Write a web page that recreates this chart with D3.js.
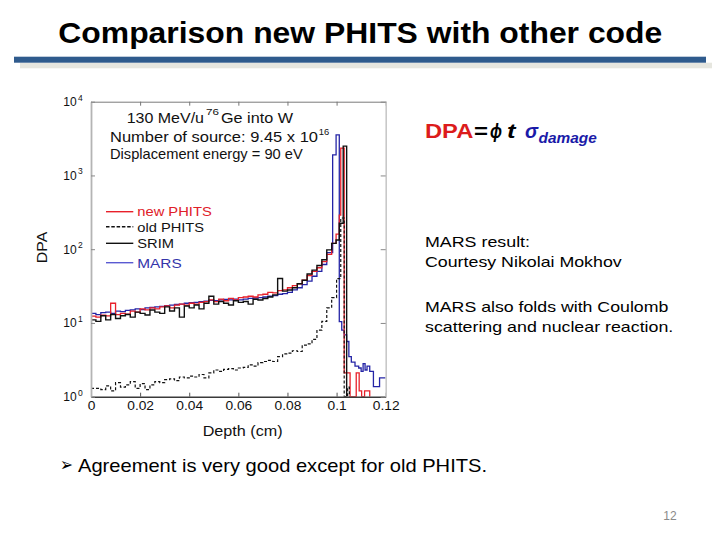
<!DOCTYPE html>
<html><head><meta charset="utf-8">
<script src="https://cdn.jsdelivr.net/npm/d3@7"></script>
<style>
body{margin:0;background:#fff}
svg{display:block}
text{font-family:"Liberation Sans",Arial,Helvetica,sans-serif}
</style>
</head><body>
<svg id="c" width="720" height="540"></svg>
<script>
// ---------- data ----------
const bodyDepth = [0, 0.002, 0.004, 0.006, 0.008, 0.010, 0.012, 0.014, 0.016, 0.018,
  0.020, 0.022, 0.024, 0.026, 0.028, 0.030, 0.032, 0.034, 0.036, 0.038,
  0.040, 0.042, 0.044, 0.046, 0.048, 0.050, 0.052, 0.054, 0.056, 0.058,
  0.060, 0.062, 0.064, 0.066, 0.068, 0.070, 0.072, 0.074, 0.076, 0.078,
  0.080, 0.082, 0.084, 0.086, 0.088, 0.090, 0.092, 0.094];

const newPhitsBody = [12.4, 12.0, 12.8, 12.5, 18.5, 13.0, 13.5, 13.2, 14.5, 14.0,
  15.5, 15.0, 16.0, 15.5, 16.5, 17.0, 16.0, 17.5, 18.0, 17.5,
  18.5, 18.0, 19.0, 19.5, 20.5, 19.5, 21.0, 20.0, 21.5, 20.5,
  22.0, 22.5, 23.0, 22.5, 24.0, 24.5, 26.0, 25.5, 27.5, 28.0,
  30.0, 32.0, 34.0, 38.0, 44.0, 50.0, 56.0, 68.0];
const newPhitsPeakDepth = [0.096, 0.098, 0.0998, 0.1011, 0.1017, 0.1031, 0.1055, 0.1080, 0.1092, 0.1102, 0.1114, 0.1135];
const newPhitsPeak = [85, 120, 160, 290, 2350, 2.1, 0.5, 2.1, 1.2, 0.5, 1.2];

const marsBody = [13.5, 13.0, 13.8, 14.0, 13.5, 14.5, 14.2, 14.8, 15.0, 15.5,
  15.2, 16.0, 16.2, 16.5, 16.8, 17.2, 17.5, 17.8, 18.0, 18.5,
  18.8, 19.0, 19.5, 19.8, 20.2, 20.0, 20.5, 20.8, 20.5, 21.0,
  20.5, 21.0, 21.5, 21.8, 22.0, 22.5, 23.0, 23.5, 24.5, 25.0,
  26.0, 28.0, 30.0, 33.0, 37.0, 43.0, 50.0, 62.0];
const marsPeakDepth = [0.096, 0.0984, 0.0998, 0.1011, 0.1021, 0.1031, 0.1041, 0.1050, 0.1060, 0.1075,
  0.1090, 0.1100, 0.1108, 0.1116, 0.1124, 0.1135, 0.1150, 0.1175, 0.1200];
const marsPeak = [90, 1900, 3540, 10.4, 8.0, 6.9, 5.6, 3.5, 2.95, 2.6, 2.45, 2.2, 2.8, 2.3, 2.6, 2.2, 1.37, 1.8];

const srimBody = [11.0, 10.5, 12.5, 11.0, 13.0, 11.5, 12.5, 13.0, 12.0, 14.0,
  13.5, 12.8, 15.0, 14.0, 13.5, 16.5, 14.5, 16.0, 12.0, 17.0,
  16.0, 17.5, 15.5, 18.5, 23.0, 18.0, 19.5, 18.5, 17.5, 20.0,
  19.0, 19.5, 18.0, 21.0, 20.5, 21.5, 22.5, 24.0, 40.0, 27.0,
  28.0, 30.0, 34.0, 38.0, 46.0, 52.0, 60.0, 72.0];
const srimPeakDepth = [0.096, 0.098, 0.0998, 0.1011, 0.1027, 0.1041];
const srimPeak = [98, 120, 133, 225, 2500];

const oldPhitsBody = [1.3, 1.3, 1.25, 1.4, 1.2, 1.55, 1.35, 1.45, 1.6, 1.3,
  1.5, 1.25, 1.45, 1.6, 1.55, 1.7, 1.75, 1.65, 1.85, 1.8,
  1.9, 1.85, 2.0, 1.8, 2.1, 2.3, 2.2, 2.35, 2.4, 2.3,
  2.45, 2.5, 2.7, 2.6, 2.9, 3.0, 3.1, 3.0, 3.5, 3.8,
  3.9, 4.2, 4.1, 5.0, 5.2, 6.0, 8.0, 10.5];
const oldPhitsPeakDepth = [0.096, 0.098, 0.1000, 0.1017, 0.1031, 0.1045, 0.1052];
const oldPhitsPeak = [16, 22, 40, 265, 0.5, 1.35];

const xTicks = [0, 0.02, 0.04, 0.06, 0.08, 0.1, 0.12];
const xTickLabels = ["0", "0.02", "0.04", "0.06", "0.08", "0.1", "0.12"];
const yTicks = [1, 10, 100, 1000, 10000];
const yTickExp = ["0", "1", "2", "3", "4"];
const legendNames = ["new PHITS", "old PHITS", "SRIM", "MARS"];

// ---------- layout ----------
const svg = d3.select("#c");
const L = 91, R = 385.7, T = 101.7, B = 396.7;
const x = d3.scaleLinear().domain([0, 0.12]).range([L, R]);
const y = d3.scaleLog().domain([1, 10000]).range([B, T]).clamp(true);
const FLOOR = 0.5;

function fit(sel, w) {
  sel.attr("textLength", w).attr("lengthAdjust", "spacingAndGlyphs");
  return sel;
}
function stretch(sel, k) {
  sel.each(function () {
    const w = this.getComputedTextLength();
    this.setAttribute("textLength", w * k);
    this.setAttribute("lengthAdjust", "spacingAndGlyphs");
  });
}

// ---------- title ----------
svg.append("text").attr("x", 58.3).attr("y", 42.7)
  .attr("font-size", 29.3).attr("font-weight", "bold").attr("fill", "#000")
  .text("Comparison new PHITS with other code").call(fit, 604);
svg.append("rect").attr("x", 20).attr("y", 62.7).attr("width", 692).attr("height", 5.6).attr("fill", "#e6e6df");
svg.append("rect").attr("x", 14).attr("y", 56.7).attr("width", 692).attr("height", 6).attr("fill", "#2f5b8d");

// ---------- series ----------
function steps(depths, vals, drop) {
  const pts = depths.map((d, i) => [d, vals[Math.min(i, vals.length - 1)]]);
  if (drop) pts.push([depths[depths.length - 1], FLOOR]);
  return pts;
}
const series = [
  {name: "MARS", pts: steps(bodyDepth.concat(marsPeakDepth), marsBody.concat(marsPeak), false), color: "#2424a6", w: 1.3, dash: null},
  {name: "new PHITS", pts: steps(bodyDepth.concat(newPhitsPeakDepth), newPhitsBody.concat(newPhitsPeak), true), color: "#e8202a", w: 1.3, dash: null},
  {name: "SRIM", pts: steps(bodyDepth.concat(srimPeakDepth), srimBody.concat(srimPeak), true), color: "#111", w: 1.4, dash: null},
  {name: "old PHITS", pts: steps(bodyDepth.concat(oldPhitsPeakDepth), oldPhitsBody.concat(oldPhitsPeak), true), color: "#111", w: 1.2, dash: "3,2"}
];

svg.append("defs").append("clipPath").attr("id", "clip")
  .append("rect").attr("x", L).attr("y", T).attr("width", R - L).attr("height", B - T);

const line = d3.line().x(d => x(d[0])).y(d => y(d[1])).curve(d3.curveStepAfter);
const plot = svg.append("g").attr("clip-path", "url(#clip)");
series.forEach(s => {
  plot.append("path").datum(s.pts).attr("d", line)
    .attr("fill", "none").attr("stroke", s.color).attr("stroke-width", s.w)
    .attr("stroke-dasharray", s.dash);
});

// ---------- axes ----------
const gx = svg.append("g").attr("transform", `translate(0,${B})`)
  .call(d3.axisBottom(x).tickValues(xTicks).tickFormat((d, i) => xTickLabels[i])
    .tickSizeInner(-4).tickSizeOuter(0).tickPadding(4.5));
gx.select(".domain").attr("stroke", "#3a3a3a").attr("stroke-width", 1.6);
gx.selectAll(".tick line").attr("stroke", "#555");
gx.selectAll(".tick text").attr("font-size", 12.5).attr("fill", "#111")
  .attr("font-family", "'Liberation Sans',Arial,sans-serif").call(stretch, 1.1);

const gt = svg.append("g").attr("transform", `translate(0,${T})`)
  .call(d3.axisTop(x).tickValues(xTicks).tickFormat("").tickSizeInner(-4).tickSizeOuter(0));
gt.select(".domain").attr("stroke", "#7a7a7a").attr("stroke-width", 1);
gt.selectAll(".tick line").attr("stroke", "#777");

const gl = svg.append("g").attr("transform", `translate(${L},0)`)
  .call(d3.axisLeft(y).tickValues(yTicks).tickFormat("").tickSizeInner(-4).tickSizeOuter(0));
gl.select(".domain").attr("stroke", "#b4b4b4").attr("stroke-width", 1.8);
gl.selectAll(".tick line").attr("stroke", "#888");

const gr = svg.append("g").attr("transform", `translate(${R},0)`)
  .call(d3.axisRight(y).tickValues(yTicks).tickFormat("").tickSizeInner(-5).tickSizeOuter(0));
gr.select(".domain").attr("stroke", "#c8c8c8").attr("stroke-width", 1.6);
gr.selectAll(".tick line").attr("stroke", "#888");

// y tick labels 10^n
yTicks.forEach((v, i) => {
  const ty = y(v);
  svg.append("text").attr("x", 76.7).attr("y", ty + 4.5).attr("text-anchor", "end")
    .attr("font-size", 12).attr("fill", "#111").text("10").call(fit, 13.4);
  svg.append("text").attr("x", 78).attr("y", ty - 1.2)
    .attr("font-size", 8.5).attr("fill", "#111").text(yTickExp[i]);
});

// axis titles
svg.append("text").attr("x", 242.7).attr("y", 436).attr("text-anchor", "middle")
  .attr("font-size", 15).attr("fill", "#111").text("Depth (cm)").call(fit, 80);
svg.append("text").attr("transform", "translate(46.7,247.5) rotate(-90)").attr("text-anchor", "middle")
  .attr("font-size", 14.5).attr("fill", "#111").text("DPA").call(fit, 31.6);

// annotation inside plot
svg.append("text").attr("x", 126.7).attr("y", 122.5).attr("font-size", 14.5).attr("fill", "#111")
  .text("130 MeV/u").call(fit, 77.3);
svg.append("text").attr("x", 206).attr("y", 114.5).attr("font-size", 9.5).attr("fill", "#111")
  .text("76").call(fit, 13);
svg.append("text").attr("x", 221).attr("y", 122.5).attr("font-size", 14.5).attr("fill", "#111")
  .text("Ge into W").call(fit, 72);
svg.append("text").attr("x", 110).attr("y", 141.5).attr("font-size", 14.5).attr("fill", "#111")
  .text("Number of source: 9.45 x 10").call(fit, 208);
svg.append("text").attr("x", 318.8).attr("y", 135).attr("font-size", 9.5).attr("fill", "#111")
  .text("16").call(fit, 10.5);
svg.append("text").attr("x", 110).attr("y", 159.3).attr("font-size", 14.5).attr("fill", "#111")
  .text("Displacement energy = 90 eV").call(fit, 192.7);

// legend
const legY = [211.7, 226.7, 243.3, 262.7];
const legBase = [216, 231.7, 248.3, 267.7];
const legW = [74.4, 66.7, 36.7, 44.4];
const legLine = ["#e8202a", "#111", "#111", "#5a5ad2"];
const legText = ["#e02028", "#111", "#111", "#3434aa"];
const legDash = [null, "3.5,1.8", null, null];
legendNames.forEach((n, i) => {
  svg.append("line").attr("x1", 106).attr("x2", 133.3).attr("y1", legY[i]).attr("y2", legY[i])
    .attr("stroke", legLine[i]).attr("stroke-width", 1.4).attr("stroke-dasharray", legDash[i]);
  svg.append("text").attr("x", 137.3).attr("y", legBase[i]).attr("font-size", 13)
    .attr("fill", legText[i]).text(n).call(fit, legW[i]);
});

// ---------- right-side text ----------
svg.append("text").attr("x", 425).attr("y", 138.3).attr("font-size", 20).attr("font-weight", "bold")
  .attr("fill", "#dc1c1c").text("DPA").call(fit, 48.3);
svg.append("text").attr("x", 474).attr("y", 138.3).attr("font-size", 20).attr("font-weight", "bold")
  .attr("fill", "#000").text("=").call(fit, 14);
svg.append("text").attr("x", 490).attr("y", 138.3).attr("font-size", 20).attr("font-weight", "bold")
  .attr("font-style", "italic").attr("font-family", "'Liberation Serif','DejaVu Serif',serif")
  .attr("fill", "#000").text("ϕ").call(fit, 12);
svg.append("text").attr("x", 507).attr("y", 138.3).attr("font-size", 20).attr("font-weight", "bold")
  .attr("font-style", "italic").attr("font-family", "'Liberation Serif','DejaVu Serif',serif")
  .attr("fill", "#000").text("t").call(fit, 8.5);
svg.append("text").attr("x", 525).attr("y", 138.3).attr("font-size", 20).attr("font-weight", "bold")
  .attr("font-style", "italic").attr("font-family", "'DejaVu Sans',sans-serif")
  .attr("fill", "#1a1aa8").text("σ").call(fit, 13);
svg.append("text").attr("x", 538.5).attr("y", 143.3).attr("font-size", 14.8).attr("font-weight", "bold")
  .attr("font-style", "italic").attr("fill", "#1a1aa8").text("damage").call(fit, 58.2);

const rt = [
  ["MARS result:", 246.7, 105],
  ["Courtesy Nikolai Mokhov", 266.7, 196.7],
  ["MARS also folds with Coulomb", 311.7, 243.3],
  ["scattering and nuclear reaction.", 331.7, 248.3]
];
rt.forEach(r => {
  svg.append("text").attr("x", 425).attr("y", r[1]).attr("font-size", 15).attr("fill", "#000")
    .text(r[0]).call(fit, r[2]);
});

// bottom bullet
svg.append("text").attr("x", 60).attr("y", 471).attr("font-size", 19)
  .attr("font-family", "'DejaVu Sans',sans-serif").attr("fill", "#000").text("➢").call(fit, 13);
svg.append("text").attr("x", 78).attr("y", 472).attr("font-size", 18.5).attr("fill", "#000")
  .text("Agreement is very good except for old PHITS.").call(fit, 409);

// page number
svg.append("text").attr("x", 670).attr("y", 520).attr("text-anchor", "middle").attr("font-size", 12)
  .attr("fill", "#8a8a8a").text("12");
</script>
</body></html>
